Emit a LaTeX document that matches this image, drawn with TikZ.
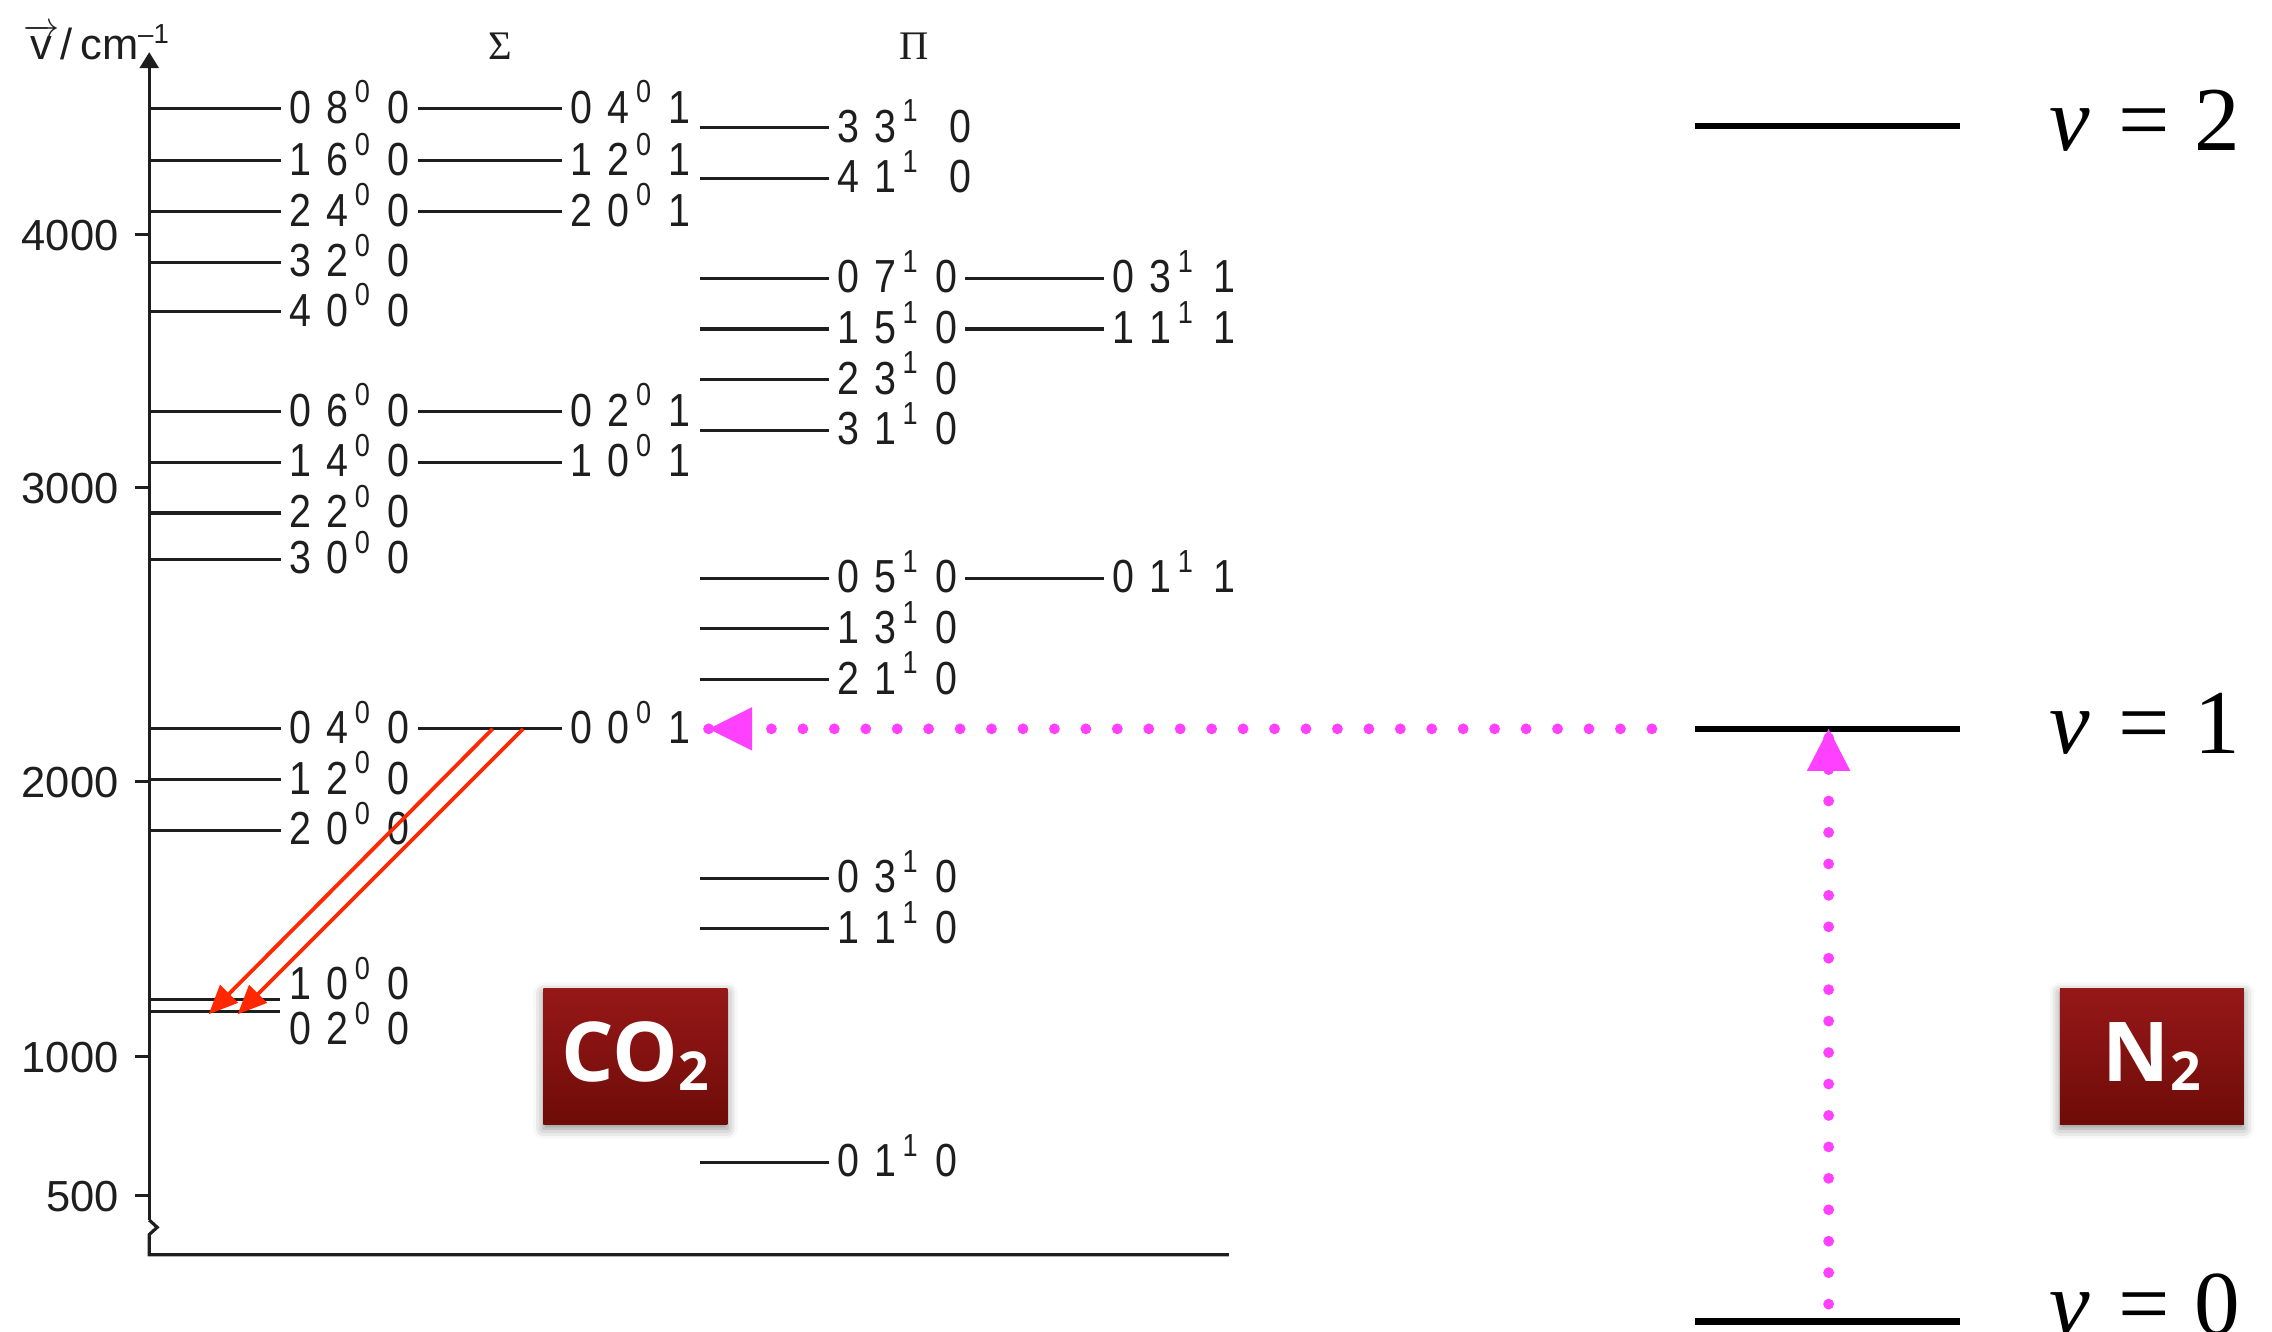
\documentclass[tikz,border=0pt]{standalone}
\usepackage{fontspec}
\setmainfont{Liberation Sans}
\newfontfamily\lvlfont[FakeStretch=0.85]{Liberation Sans}
\newfontfamily\serifT{Liberation Serif}
\newfontfamily\boxfont{Open Sans}
\usetikzlibrary{arrows.meta,shadows.blur}
\definecolor{magA}{RGB}{255,64,255}
\definecolor{redA}{RGB}{255,40,0}
\definecolor{boxtop}{RGB}{150,24,24}
\definecolor{boxbot}{RGB}{110,12,8}
\definecolor{ink}{RGB}{30,30,30}
% quantum-number label: [last gap]{v1}{v2}{l}{v3}
\newcommand\qn[5][12pt]{#2\hspace{10.5pt}#3\hspace{4.5pt}\raisebox{14pt}{\fontsize{22}{22}\selectfont #4}\hspace{#1}#5}
\begin{document}
\begin{tikzpicture}[x=1pt,y=-1pt,
  lvl/.style={inner xsep=5.5pt, inner ysep=0pt, text height=28pt, text depth=8pt,
              font=\lvlfont\fontsize{32}{32}\selectfont, anchor=west, text=ink},
  lvline/.style={line width=2.2pt, draw=ink},
  ticklab/.style={anchor=base east, inner sep=0pt, font=\fontsize{30}{30}\selectfont, text=ink},
  n2lvl/.style={line width=4.5pt, draw=black},
  n2lab/.style={anchor=base west, inner sep=0pt, font=\serifT\fontsize{63}{63}\selectfont},
  magdot/.style={draw=magA, line width=7.5pt, line cap=round, dash pattern=on 0pt off 21.7pt},
  redarr/.style={draw=redA, line width=2.6pt, -{Triangle[length=20pt,width=17pt]}},
  molbox/.style={minimum width=127pt, minimum height=94pt, inner sep=0pt,
                 top color=boxtop, bottom color=boxbot, text=white,
                 blur shadow={shadow xshift=0pt, shadow yshift=-3pt, shadow blur radius=7pt, shadow opacity=45},
                 font=\boxfont\bfseries\fontsize{57}{57}\selectfont},
  gl/.style={inner sep=0pt, anchor=base, font=\serifT\fontsize{28}{28}\selectfont, text=ink}
]
\useasboundingbox (0,0) rectangle (1568,919);
\clip (0,0) rectangle (1568,919);

% ---------- axes ----------
\coordinate (O) at (103,866);
\coordinate (Xend) at (848,866);
\coordinate (Ybrk) at (103,842);
\coordinate (Ytop) at (103,36);
\draw[lvline, line join=miter] (Xend) -- (O) -- (103,852) -- (108.5,847) -- (Ybrk);
\draw[lvline,-{Triangle[length=11pt,width=13pt]}] (Ybrk) -- (Ytop);

\node[anchor=base west, inner sep=0pt, font=\fontsize{30}{30}\selectfont, text=ink] (ylab) at (16,41)
  {$\overrightarrow{\mbox{v}}$\hspace{1pt}/\hspace{5pt}cm\raisebox{11pt}{\fontsize{19}{19}\selectfont –1}};

\foreach \v/\y in {4000/162,3000/336.5,2000/539.5,1000/729,500/825}{
  \coordinate (t\v) at (103,\y);
  \draw[lvline] (t\v) -- ++(-10,0);
  \node[ticklab] (tl\v) at (82,\y+11) {\v};
}

\node[gl] (sigma) at (345,41) {Σ};
\node[gl] (pi) at (631,41) {Π};

% ---------- Sigma column ----------
\foreach \n/\y/\a/\b in {s080/75/0/8, s160/111/1/6, s240/146/2/4, s320/181/3/2, s400/215/4/0,
                         s060/284/0/6, s140/319/1/4, s220/354/2/2, s300/386/3/0,
                         s040/503/0/4, s120/538/1/2, s200/573/2/0}{
  \coordinate (a\n) at (103,\y);
  \node[lvl] (\n) at (194,\y) {\qn{\a}{\b}{0}{0}};
  \draw[lvline] (a\n) -- (\n.west);
}
\foreach \n/\y/\a/\b/\m in {s041/75/0/4/s080, s121/111/1/2/s160, s201/146/2/0/s240,
                            s021/284/0/2/s060, s101/319/1/0/s140, s001/503/0/0/s040}{
  \node[lvl] (\n) at (388,\y) {\qn{\a}{\b}{0}{1}};
  \draw[lvline] (\m.east) -- (\n.west);
}
% Fermi pair 10^0 0 / 02^0 0
\coordinate (a100) at (103,690);
\coordinate (b100) at (193,690);
\coordinate (a020) at (103,698);
\coordinate (b020) at (193,698);
\draw[lvline] (a100) -- (b100);
\draw[lvline] (a020) -- (b020);
\node[lvl] (s100) at (194,680) {\qn{1}{0}{0}{0}};
\node[lvl] (s020) at (194,711) {\qn{0}{2}{0}{0}};

% ---------- Pi column ----------
\foreach \n/\y/\a/\b/\g in {p3310/88/3/3/22pt, p4110/123/4/1/22pt,
                            p0710/192/0/7/12pt, p1510/227/1/5/12pt, p2310/262/2/3/12pt, p3110/297/3/1/12pt,
                            p0510/399/0/5/12pt, p1310/434/1/3/12pt, p2110/469/2/1/12pt,
                            p0310/606/0/3/12pt, p1110/641/1/1/12pt, p0110/802/0/1/12pt}{
  \coordinate (a\n) at (483,\y);
  \node[lvl] (\n) at (572,\y) {\qn[\g]{\a}{\b}{1}{0}};
  \draw[lvline] (a\n) -- (\n.west);
}
\foreach \n/\y/\a/\b/\m in {q0311/192/0/3/p0710, q1111/227/1/1/p1510, q0111/399/0/1/p0510}{
  \node[lvl] (\n) at (762,\y) {\qn[14pt]{\a}{\b}{1}{1}};
  \draw[lvline] (\m.east) -- (\n.west);
}

% ---------- laser transitions ----------
\coordinate (r1s) at (340,503);
\coordinate (r2s) at (361,503);
\coordinate (r1e) at (144,700);
\coordinate (r2e) at (164,700);
\draw[redarr] (r1s) -- (r1e);
\draw[redarr] (r2s) -- (r2e);

% ---------- N2 levels ----------
\coordinate (n2v2L) at (1170,87);   \coordinate (n2v2R) at (1353,87);
\coordinate (n2v1L) at (1170,503);  \coordinate (n2v1R) at (1353,503);
\coordinate (n2v0L) at (1170,912);  \coordinate (n2v0R) at (1353,912);
\draw[n2lvl] (n2v2L) -- (n2v2R);
\draw[n2lvl] (n2v1L) -- (n2v1R);
\draw[n2lvl] (n2v0L) -- (n2v0R);
\node[n2lab] (v2) at (1414,104) {\itshape v\upshape\hspace{20pt}=\hspace{17pt}2};
\node[n2lab] (v1) at (1414,520) {\itshape v\upshape\hspace{20pt}=\hspace{17pt}1};
\node[n2lab] (v0) at (1414,921) {\itshape v\upshape\hspace{20pt}=\hspace{17pt}0};

\coordinate (n2v1M) at (1262,503);
\coordinate (n2v0M) at (1262,912);

% ---------- energy transfer (dotted) ----------
\draw[magdot, shorten <=12pt] (n2v0M) -- (n2v1M);
\fill[magA] (1262,503) -- (1247,532) -- (1277,532) -- cycle;
\draw[magdot, shorten <=30pt] (n2v1L) -- (s001.east);
\fill[magA] (489,503) -- (519,488) -- (519,518) -- cycle;

% ---------- molecule tags ----------
\node[molbox] (co2) at (438.5,729) {CO\raisebox{-6pt}{\fontsize{37}{37}\selectfont 2}};
\node[molbox] (n2) at (1485,729) {N\raisebox{-6pt}{\fontsize{37}{37}\selectfont 2}};
\end{tikzpicture}
\end{document}
